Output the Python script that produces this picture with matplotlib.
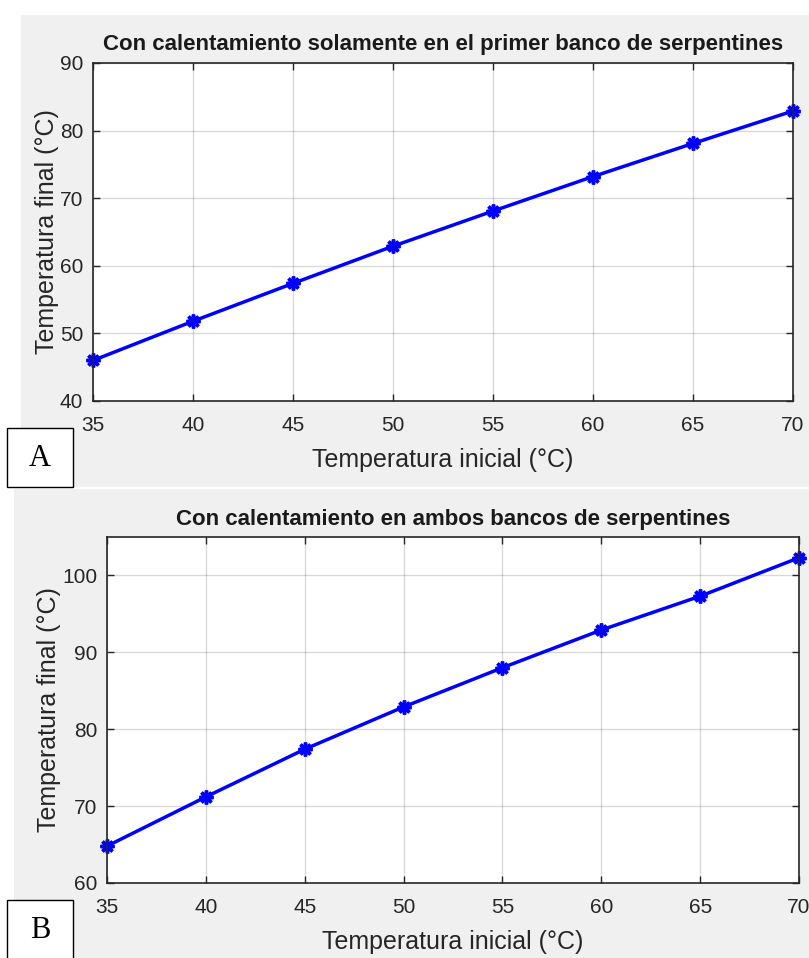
import numpy as np
import matplotlib.pyplot as plt
from matplotlib.patches import Rectangle

# Initial temperatures (°C)
t_inicial = np.array([35, 40, 45, 50, 55, 60, 65, 70])

# Final temperature, heating only the first coil bank
t_final_a = np.array([46.0, 51.8, 57.4, 62.9, 68.1, 73.2, 78.1, 82.9])
# Final temperature, heating both coil banks
t_final_b = np.array([64.8, 71.2, 77.4, 82.9, 88.0, 92.9, 97.3, 102.3])

titulos = ['Con calentamiento solamente en el primer banco de serpentines',
           'Con calentamiento en ambos bancos de serpentines']
etiquetas = ['A', 'B']

W, H = 809, 958
fig = plt.figure(figsize=(W / 100, H / 100), dpi=100, facecolor='white')
plt.rcParams['font.family'] = ['Liberation Sans', 'DejaVu Sans']

def box(x0, y0, x1, y1):
    # pixel box (origin top-left) -> figure fraction rect
    return [x0 / W, 1 - y1 / H, (x1 - x0) / W, (y1 - y0) / H]

# gray panel backgrounds
for (x0, y0, x1, y1) in [(21, 15, 809, 487), (14, 489, 809, 958)]:
    r = box(x0, y0, x1, y1)
    fig.add_artist(Rectangle((r[0], r[1]), r[2], r[3], transform=fig.transFigure,
                             facecolor='#f0f0f0', edgecolor='none', zorder=0))

axes_px = [(93, 63, 793, 401), (107, 537, 799, 883)]
ylims = [(40, 90), (60, 105)]
yticks = [np.arange(40, 91, 10), np.arange(60, 101, 10)]
datos = [t_final_a, t_final_b]
gris = '#262626'

for i in range(2):
    ax = fig.add_axes(box(*axes_px[i]))
    ax.plot(t_inicial, datos[i], color='#0000ff', linewidth=2.5,
            marker=(8, 2, 0), markersize=10, markeredgewidth=2.5, clip_on=False)
    ax.set_xlim(35, 70)
    ax.set_ylim(*ylims[i])
    ax.set_xticks(np.arange(35, 71, 5))
    ax.set_yticks(yticks[i])
    ax.grid(True, color='#000000', alpha=0.15, linewidth=1)
    ax.set_axisbelow(True)
    ax.tick_params(direction='in', top=True, right=True, length=5, width=1,
                   colors=gris, labelsize=15)
    ax.tick_params(axis='x', pad=11)
    ax.tick_params(axis='y', pad=7)
    for s in ax.spines.values():
        s.set_color(gris)
        s.set_linewidth(1.2)
    ax.set_title(titulos[i], fontsize=16, fontweight='bold', color='#1a1a1a', pad=9)
    ax.set_xlabel('Temperatura inicial (°C)', fontsize=18, color=gris, labelpad=9)
    ax.set_ylabel('Temperatura final (°C)', fontsize=18, color=gris, labelpad=1)

# panel letters
for (x0, y0, x1, y1), letra in zip([(7, 428, 73, 487), (7, 900, 73, 964)], etiquetas):
    r = box(x0, y0, x1, y1)
    fig.add_artist(Rectangle((r[0], r[1]), r[2], r[3], transform=fig.transFigure,
                             facecolor='white', edgecolor='black', linewidth=1, zorder=5))
    fig.text((x0 + x1) / 2 / W, 1 - (y0 + 31) / H, letra, family='Liberation Serif',
             fontsize=22, ha='center', va='center', zorder=6)

fig.savefig('out.png', dpi=100)
